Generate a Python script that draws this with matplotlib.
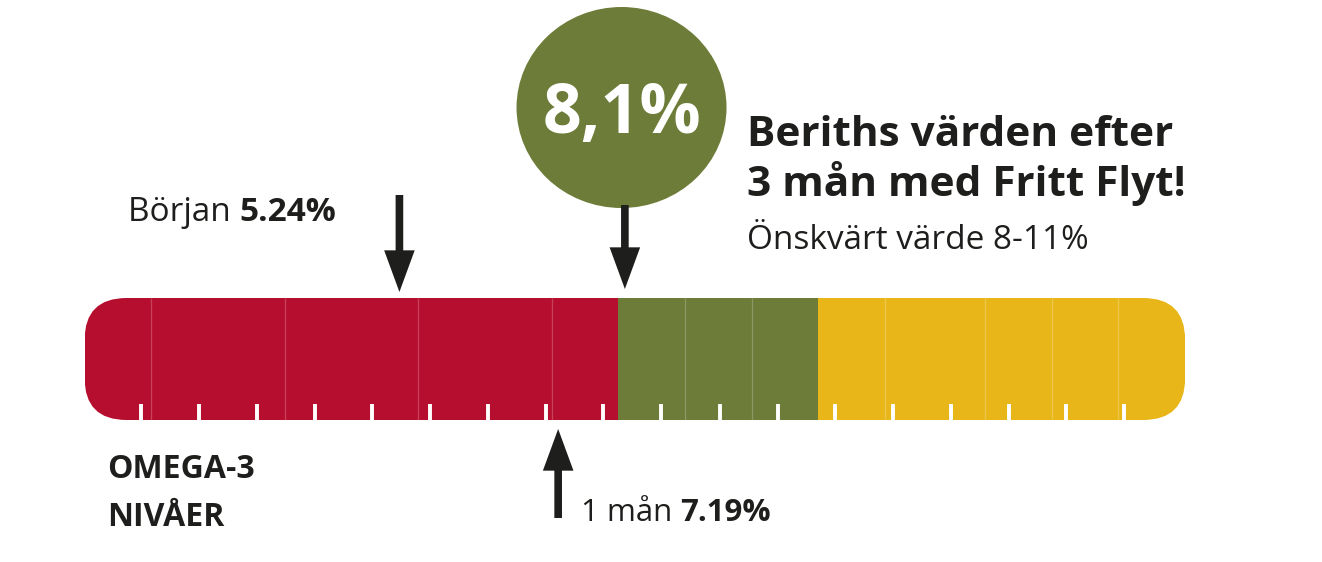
import matplotlib
matplotlib.use("Agg")
import matplotlib.pyplot as plt
from matplotlib.patches import FancyBboxPatch, Ellipse

# ---------------- data ----------------
seg_left   = [0, 1, 3, 5, 7, 8, 9, 10, 11, 12, 13.5, 14.5, 15.5]
seg_width  = [1, 2, 2, 2, 1, 1, 1, 1, 1, 1.5, 1, 1, 1]
seg_zone   = ["low", "low", "low", "low", "low", "good", "good", "good",
              "high", "high", "high", "high", "high"]
zone_color = {"low": "#B60E2E", "good": "#6E7C39", "high": "#E8B619"}
tick_pos   = [0.84, 1.72, 2.58, 3.45, 4.31, 5.18, 6.05, 6.92, 7.77, 8.64,
              9.53, 10.40, 11.25, 12.12, 12.99, 13.86, 14.72, 15.58]
# arrow positions as drawn in the picture, with their labels
marker_pos    = [4.72, 7.10, 8.10]
marker_label  = ["Början ", "1 mån ", None]
marker_value  = ["5.24%", "7.19%", "8,1%"]
title_lines   = ["Beriths värden efter", "3 mån med Fritt Flyt!"]
subtitle      = "Önskvärt värde 8-11%"
axis_label    = ["OMEGA-3", "NIVÅER"]

# ---------------- layout ----------------
W, H = 1322, 562
PX0, PXU = 84.6, 66.7           # pixel of 0 %, pixels per 1 %
TXT = "#1e1e1c"
FONT = "Open Sans"

fig = plt.figure(figsize=(W / 100, H / 100), dpi=100)
ax = fig.add_axes([0, 0, 1, 1])
ax.set_xlim(-PX0 / PXU, (W - PX0) / PXU)
ax.set_ylim(H, 0)
ax.axis("off")

def vx(px):
    return (px - PX0) / PXU

bar_top, bar_bot = 298, 420
bar_end = seg_left[-1] + seg_width[-1]

clip = FancyBboxPatch((0, bar_top), bar_end, bar_bot - bar_top,
                      boxstyle="round,pad=0,rounding_size=%f" % (42 / PXU),
                      mutation_aspect=PXU, transform=ax.transData,
                      facecolor="none", edgecolor="none")
ax.add_patch(clip)

bars = ax.barh([(bar_top + bar_bot) / 2] * len(seg_left), seg_width,
               left=seg_left, height=bar_bot - bar_top,
               color=[zone_color[z] for z in seg_zone], linewidth=0)
for b in bars:
    b.set_clip_path(clip)

# faint seams between segments (not at zone changes)
seams = [l for i, l in enumerate(seg_left) if i > 0 and seg_zone[i] == seg_zone[i - 1]]
sl = ax.vlines(seams, bar_top, bar_bot, colors="white", alpha=0.22, linewidth=0.9)
sl.set_clip_path(clip)

tk = ax.vlines(tick_pos, 404, bar_bot, colors="white", linewidth=2.8)
tk.set_clip_path(clip)

# ---------------- arrows ----------------
def arrow(x, y_from, y_to):
    ax.annotate("", xy=(x, y_to), xytext=(x, y_from),
                arrowprops=dict(arrowstyle="simple,head_length=3.0,head_width=2.2,tail_width=0.55",
                                mutation_scale=10, color=TXT, shrinkA=0, shrinkB=0, lw=0))

arrow(marker_pos[0], 195, 292)
arrow(marker_pos[1], 518, 429)
arrow(marker_pos[2], 205, 289)

# circle
circ = Ellipse((marker_pos[2] - 0.05, 107.5), 210 / PXU, 201, facecolor="#6E7C39", edgecolor="none")
ax.add_patch(circ)
ax.text(marker_pos[2] - 0.05, 133, marker_value[2], fontsize=49, fontweight="bold",
        family=FONT, color="white", ha="center", va="baseline")

# ---------------- text ----------------
fig.canvas.draw()
renderer = fig.canvas.get_renderer()

def two_part(xpx, ypx, a, b, size):
    t1 = ax.text(vx(xpx), ypx, a, fontsize=size, family=FONT, color=TXT, va="baseline")
    bb = t1.get_window_extent(renderer)
    x2 = ax.transData.inverted().transform((bb.x1, 0))[0]
    ax.text(x2, ypx, b, fontsize=size, family=FONT, fontweight="bold", color=TXT, va="baseline")

two_part(128, 221, marker_label[0], marker_value[0], 24)
two_part(581, 521, marker_label[1], marker_value[1], 22.5)

ax.text(vx(747), 146, title_lines[0], fontsize=30.5, family=FONT, fontweight="bold", color=TXT, va="baseline")
ax.text(vx(747), 196, title_lines[1], fontsize=30.5, family=FONT, fontweight="bold", color=TXT, va="baseline")
ax.text(vx(747), 249, subtitle, fontsize=24, family=FONT, color=TXT, va="baseline")

ax.text(vx(107), 478, axis_label[0], fontsize=23, family=FONT, fontweight="bold", color=TXT, va="baseline")
ax.text(vx(107), 526, axis_label[1], fontsize=23, family=FONT, fontweight="bold", color=TXT, va="baseline")

fig.savefig("out.png", dpi=100, facecolor="white")
